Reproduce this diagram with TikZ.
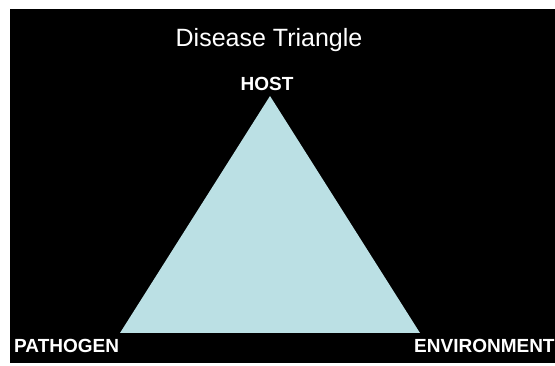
\documentclass[tikz,border=0pt]{standalone}
\usepackage{fontspec}
\setmainfont{Liberation Sans}
\definecolor{tri}{RGB}{187,224,228}
\tikzset{
  lbl/.style={text=white, inner sep=0pt, font=\bfseries\fontsize{19}{22}\selectfont},
  ttl/.style={text=white, inner sep=0pt, font=\fontsize{25}{30}\selectfont}
}
\begin{document}
\begin{tikzpicture}[x=1pt,y=-1pt]
\useasboundingbox (0,0) rectangle (555,366);
\fill[white] (0,0) rectangle (555,366);
\fill[black] (10,9) rectangle (555,363);
\coordinate (apex) at (270,96);
\coordinate (bl) at (120,333);
\coordinate (br) at (420,333);
\fill[tri] (apex) -- (bl) -- (br) -- cycle;
\node[ttl, anchor=base] (title) at (269,47) {Disease Triangle};
\node[lbl, anchor=base] (host) at (267,91) {HOST};
\node[lbl, anchor=base west] (pathogen) at (14,353) {PATHOGEN};
\node[lbl, anchor=base west] (env) at (414,353) {ENVIRONMENT};
\end{tikzpicture}
\end{document}
